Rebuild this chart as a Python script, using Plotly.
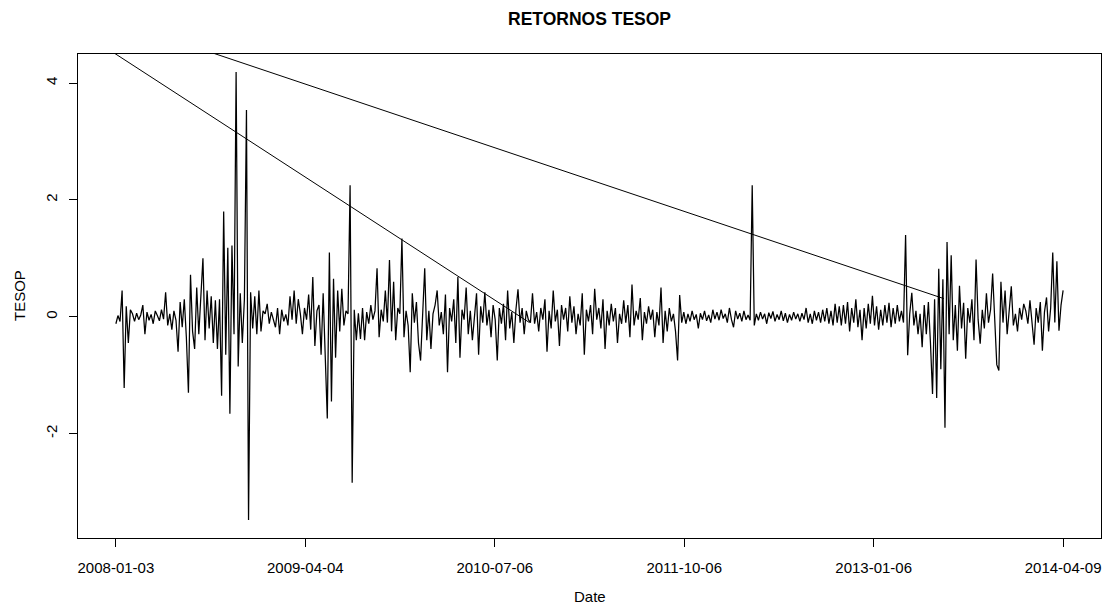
import pandas as pd
import plotly.graph_objects as go

tesop = [
    -0.12, 0.02, -0.08, 0.45, -1.22, 0.18, -0.45, 0.12, 0.05, -0.08,
    0.06, -0.05, 0.03, 0.20, -0.30, 0.08, -0.06, 0.04, -0.12, 0.10,
    0.02, -0.07, 0.12, -0.04, 0.42, -0.15, 0.05, -0.22, 0.10, -0.06,
    -0.60, 0.25, -0.18, 0.30, -0.35, -1.30, 0.72, -0.25, -0.55, 0.50,
    -0.30, 0.38, 1.00, -0.40, 0.45, -0.20, 0.35, -0.45, 0.28, -0.55,
    0.30, -1.35, 1.80, -0.65, 1.18, -1.66, 1.22, -0.30, 4.19, -0.85,
    0.40, -0.45, 0.30, 3.54, -3.48, 0.42, -0.20, 0.35, -0.30, 0.45,
    -0.25, 0.10, 0.05, 0.22, -0.12, 0.08, -0.05, -0.18, 0.15, -0.30,
    0.12, -0.08, 0.04, -0.15, 0.35, -0.05, 0.45, -0.12, 0.30, 0.05,
    -0.30, 0.15, -0.05, 0.38, -0.22, 0.68, -0.50, 0.10, 0.20, -0.65,
    0.40, -0.80, -1.74, 1.10, -1.45, 0.65, -0.70, 0.45, -0.25, 0.48,
    -0.15, 0.10, 0.05, 2.25, -2.84, 0.12, -0.40, 0.06, -0.38, 0.15,
    -0.40, 0.08, -0.12, 0.20, -0.05, 0.10, 0.83, -0.35, 0.12, -0.08,
    0.45, -0.10, 0.97, -0.25, 0.60, -0.40, 0.15, 0.05, 1.34, -0.35,
    0.10, -0.15, -0.95, 0.40, -0.10, 0.25, -0.45, -0.75, 0.15, 0.83,
    -0.40, 0.10, -0.55, 0.05, 0.20, 0.45, -0.15, 0.08, -0.30, 0.38,
    -0.95, 0.15, -0.08, 0.30, -0.45, 0.68, -0.70, 0.12, -0.05, 0.50,
    -0.30, 0.10, -0.40, 0.05, 0.40, -0.65, 0.18, -0.10, 0.42, -0.15,
    0.12, -0.35, 0.20, -0.05, -0.75, 0.15, -0.12, 0.22, -0.40, 0.45,
    -0.20, 0.08, -0.45, 0.12, 0.47, -0.10, 0.15, -0.30, 0.10, -0.05,
    -0.10, 0.40, -0.12, 0.08, -0.25, 0.15, -0.05, 0.30, -0.60, 0.10,
    -0.20, 0.45, -0.08, 0.12, -0.50, 0.20, -0.05, 0.15, -0.25, 0.35,
    -0.10, 0.18, -0.30, 0.05, -0.15, 0.40, -0.65, 0.12, -0.08, 0.20,
    -0.30, 0.48, -0.05, 0.15, -0.20, 0.30, -0.55, 0.10, -0.15, 0.22,
    -0.08, 0.15, -0.45, 0.05, -0.12, 0.28, -0.10, 0.20, -0.35, 0.55,
    -0.15, 0.10, -0.05, 0.32, -0.40, 0.08, -0.12, 0.18, -0.05, 0.12,
    -0.35, 0.08, -0.15, 0.50, -0.45, 0.10, -0.25, 0.15, -0.08, 0.05,
    -0.25, -0.75, 0.37, -0.10, 0.08, -0.12, 0.05, -0.08, 0.10, -0.05,
    0.04, -0.20, 0.06, -0.05, 0.10, -0.07, 0.03, -0.10, 0.12, -0.04,
    0.08, -0.06, 0.12, -0.03, 0.05, -0.10, 0.15, -0.05, -0.18, 0.10,
    -0.04, 0.06, -0.08, 0.10, -0.05, 0.03, -0.06, 2.25, -0.15, 0.05,
    -0.06, 0.08, -0.04, 0.05, -0.12, 0.07, -0.03, 0.09, -0.08, 0.04,
    -0.05, 0.10, -0.07, 0.06, -0.10, 0.04, -0.06, 0.08, -0.04, 0.05,
    -0.08, 0.06, -0.05, 0.15, -0.10, 0.05, -0.12, 0.10, -0.06, 0.08,
    -0.10, 0.12, -0.08, 0.15, -0.12, 0.10, -0.15, 0.22, -0.10, 0.18,
    -0.15, 0.20, -0.12, 0.25, -0.25, 0.15, -0.10, 0.30, -0.18, 0.12,
    -0.40, 0.15, -0.20, 0.22, -0.12, 0.36, -0.15, 0.18, -0.22, 0.12,
    -0.15, 0.20, -0.10, 0.24, -0.18, 0.15, -0.12, 0.20, -0.08, 0.10,
    -0.10, 1.40, -0.66, 0.05, 0.41, -0.15, 0.10, -0.30, 0.05, -0.52,
    0.20, -0.30, 0.25, -0.45, -1.32, 0.30, -1.39, 0.82, -0.90, 0.64,
    -1.90, 1.28, -0.30, 1.05, -0.40, 0.20, -0.58, 0.53, -0.20, 0.24,
    -0.72, 0.15, -0.10, 0.30, -0.40, 0.98, -0.05, -0.46, 0.12, -0.20,
    0.40, -0.10, 0.12, 0.74, -0.15, -0.82, -0.92, 0.60, -0.10, 0.45,
    -0.30, 0.12, 0.52, -0.15, 0.05, -0.25, 0.15, -0.05, 0.22, 0.10,
    -0.12, 0.28, -0.05, -0.48, 0.15, -0.10, 0.25, -0.58, 0.08, 0.33,
    -0.25, 0.15, 1.10, -0.10, 0.95, -0.24, 0.20, 0.45,
]
start_date = "2008-01-03"
end_date = "2014-04-09"

# Out-of-order observation producing the two long diagonal segments
wrap_dates = ["2010-09-28", "2007-04-18", "2013-06-25"]
wrap_values = [-0.10, 5.69, 0.31]

tick_dates = ["2008-01-03", "2009-04-04", "2010-07-06", "2011-10-06", "2013-01-06", "2014-04-09"]
y_ticks = [-2, 0, 2, 4]

dates = pd.date_range(start_date, end_date, periods=len(tesop))

FONT = "Liberation Sans, Arial, sans-serif"

fig = go.Figure()
fig.add_trace(go.Scatter(x=dates, y=tesop, mode="lines",
                         line=dict(color="black", width=1.25), showlegend=False))
fig.add_trace(go.Scatter(x=pd.to_datetime(wrap_dates), y=wrap_values, mode="lines",
                         line=dict(color="black", width=1), showlegend=False))

# R-style 4% axis expansion
d0, d1 = pd.Timestamp(start_date), pd.Timestamp(end_date)
pad = (d1 - d0) * 0.04
ymin, ymax = min(tesop), max(tesop)
ypad = (ymax - ymin) * 0.04

# R places ticks at evenly spaced positions between min and max dates
tick_pos = [d0 + (d1 - d0) * k / (len(tick_dates) - 1) for k in range(len(tick_dates))]

fig.update_layout(
    width=1105, height=612,
    margin=dict(l=78, r=4, t=54, b=74),
    paper_bgcolor="white", plot_bgcolor="white",
    font=dict(family=FONT, size=15, color="black"),
    xaxis=dict(range=[d0 - pad, d1 + pad], tickvals=tick_pos, ticktext=tick_dates,
               ticks="outside", ticklen=8, tickwidth=1, tickcolor="black",
               showline=True, mirror=True, linecolor="black", linewidth=1,
               showgrid=False, zeroline=False, ticklabelstandoff=8,
               tickfont=dict(size=15)),
    yaxis=dict(range=[ymin - ypad, ymax + ypad], tickvals=y_ticks,
               ticktext=[str(v) for v in y_ticks], tickangle=-90,
               ticks="outside", ticklen=8, tickwidth=1, tickcolor="black",
               showline=True, mirror=True, linecolor="black", linewidth=1,
               showgrid=False, zeroline=False, ticklabelstandoff=6,
               tickfont=dict(size=15)),
    annotations=[
        dict(text="<b>RETORNOS TESOP</b>", x=0.5, y=(538 - 19) / 484, xref="paper", yref="paper",
             xanchor="center", yanchor="middle", showarrow=False, font=dict(size=17.5)),
        dict(text="Date", x=0.5, y=(538 - 596) / 484, xref="paper", yref="paper",
             xanchor="center", yanchor="middle", showarrow=False, font=dict(size=15)),
        dict(text="TESOP", x=(19 - 78) / 1023, y=0.5, xref="paper", yref="paper",
             xanchor="center", yanchor="middle", textangle=-90, showarrow=False,
             font=dict(size=15)),
    ],
)

fig.write_html("out.html")
